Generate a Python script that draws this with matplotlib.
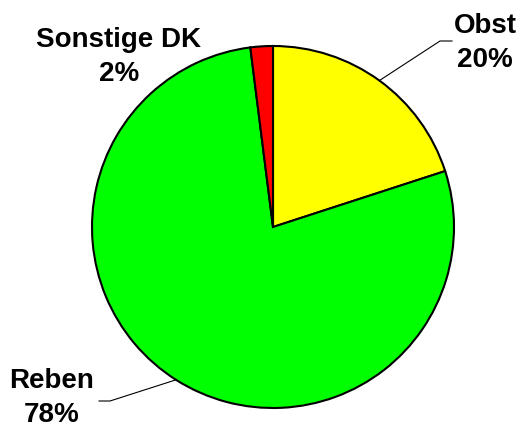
import numpy as np
import matplotlib
matplotlib.use('Agg')
import matplotlib.pyplot as plt

# data
labels = ['Obst', 'Reben', 'Sonstige DK']
shares = [20, 78, 2]
colors = ['#ffff00', '#00ff00', '#ff0000']

plt.rcParams['font.family'] = ['Liberation Sans', 'DejaVu Sans']

W, H = 520, 430
fig = plt.figure(figsize=(W / 100, H / 100), dpi=100)
ax = fig.add_axes([0, 0, 1, 1])

cx, cy, r = 273, H - 227, 181
wedges, _ = ax.pie(shares, colors=colors, startangle=90, counterclock=False,
                   center=(cx, cy), radius=r, frame=True,
                   wedgeprops=dict(edgecolor='black', linewidth=1.5))
ax.set_xlim(0, W)
ax.set_ylim(0, H)
ax.set_aspect('equal')
ax.axis('off')

# label positions (text centre) and leader-line elbows, image pixels
txt_pos = {'Obst': (485, 43), 'Reben': (52, 398), 'Sonstige DK': (119, 57)}
elbow = {'Obst': [(440, 41), (452, 41)], 'Reben': [(110, 401), (99, 401)]}

for w, lab, val in zip(wedges, labels, shares):
    tx, ty = txt_pos[lab]
    ax.text(tx, H - ty, '%s\n%d%%' % (lab, val), ha='center', va='center',
            fontsize=20, fontweight='bold', linespacing=1.4)
    if lab in elbow:
        mid = np.deg2rad((w.theta1 + w.theta2) / 2)
        xs = [cx + r * np.cos(mid)] + [p[0] for p in elbow[lab]]
        ys = [cy + r * np.sin(mid)] + [H - p[1] for p in elbow[lab]]
        ax.plot(xs, ys, color='black', linewidth=0.8)

fig.savefig('out.png', dpi=100)
